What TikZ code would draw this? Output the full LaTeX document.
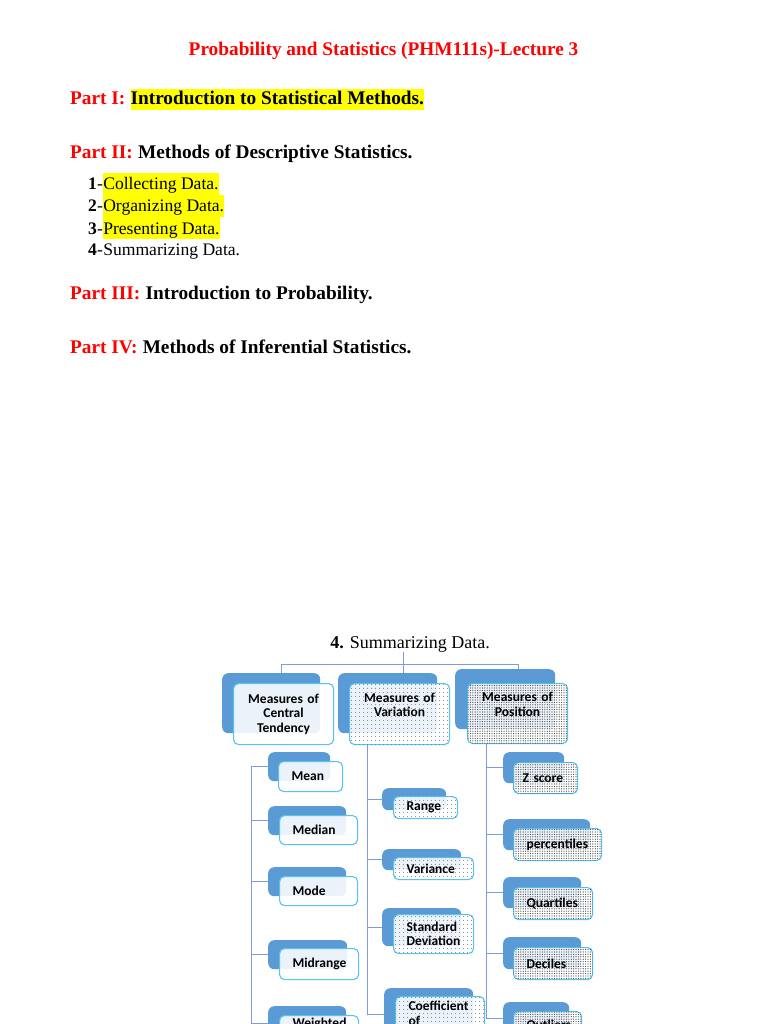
\documentclass[tikz,border=0pt]{standalone}
\usepackage{fontspec}
\setmainfont{Liberation Serif}
\newfontfamily\boxfont{Carlito}
\usetikzlibrary{positioning,patterns.meta}

\definecolor{titlered}{RGB}{255,0,0}
\definecolor{hlyellow}{RGB}{255,255,0}
\definecolor{backblue}{RGB}{91,155,213}
\definecolor{edgeblue}{RGB}{86,196,240}
\definecolor{linkblue}{RGB}{125,155,222}
\definecolor{dotgray}{RGB}{70,70,70}

\tikzset{
  partlbl/.style={text=titlered, font=\bfseries\fontsize{19.3}{23}\selectfont, inner sep=0pt, anchor=base west},
  parttxt/.style={font=\bfseries\fontsize{19.3}{23}\selectfont, inner sep=0pt, text height=16pt, text depth=5pt},
  itemnum/.style={font=\fontsize{17.6}{21}\selectfont, inner sep=0pt, anchor=base west},
  itemtxt/.style={font=\fontsize{17.6}{21}\selectfont, inner sep=0pt, text height=17pt, text depth=5pt},
  backbox/.style={fill=backblue, rounded corners=6pt, anchor=north west, inner sep=0pt},
  frontbox/.style={draw=edgeblue, line width=1.1pt, rounded corners=5pt, fill=white, fill opacity=0.88,
    text opacity=1, font=\boxfont\bfseries\fontsize{13.5}{14.5}\selectfont, anchor=north west,
    inner xsep=13pt, inner ysep=1pt, align=left},
  sparsedots/.style={frontbox, postaction={fill opacity=1, pattern={Dots[distance=4pt,radius=0.5pt]}, pattern color=dotgray}},
  densedots/.style={frontbox, postaction={fill opacity=1, pattern={Dots[distance=2.4pt,radius=0.6pt]}, pattern color=dotgray}},
  conn/.style={draw=linkblue, line width=0.9pt}
}

\begin{document}
\begin{tikzpicture}[x=1pt,y=-1pt]
\useasboundingbox[fill=white] (0,0) rectangle (768,1024);
\clip (0,0) rectangle (768,1024);

\node[text=titlered, font=\bfseries\fontsize{19.3}{23}\selectfont, inner sep=0pt, anchor=base] (title) at (383.5,56) {Probability and Statistics (PHM111s)-Lecture 3};

\node[partlbl] (p1) at (70,105) {Part I:};
\node[parttxt, fill=hlyellow, base right=4.8pt of p1] (p1t) {Introduction to Statistical Methods.};
\node[partlbl] (p2) at (70,159) {Part II:};
\node[parttxt, base right=4.8pt of p2] (p2t) {Methods of Descriptive Statistics.};

\node[itemnum] (i1) at (88,190) {\textbf{1}-};
\node[itemtxt, fill=hlyellow, base right=0pt of i1] (i1t) {Collecting Data.};
\node[itemnum] (i2) at (88,212) {\textbf{2}-};
\node[itemtxt, fill=hlyellow, base right=0pt of i2] (i2t) {Organizing Data.};
\node[itemnum] (i3) at (88,234) {\textbf{3}-};
\node[itemtxt, fill=hlyellow, base right=0pt of i3] (i3t) {Presenting Data.};
\node[itemnum] (i4) at (88,255) {\textbf{4}-};
\node[itemtxt, base right=0pt of i4] (i4t) {Summarizing Data.};

\node[partlbl] (p3) at (70,299) {Part III:};
\node[parttxt, base right=4.8pt of p3] (p3t) {Introduction to Probability.};
\node[partlbl] (p4) at (70,353) {Part IV:};
\node[parttxt, base right=4.8pt of p4] (p4t) {Methods of Inferential Statistics.};

\node[font=\fontsize{18}{21}\selectfont, inner sep=0pt, anchor=base] (sumtitle) at (410,648) {\textbf{4.} Summarizing Data.};

\node[backbox, minimum width=98pt, minimum height=60pt] (ctb) at (222,673) {};
\node[backbox, minimum width=99pt, minimum height=60pt] (cvb) at (338,673) {};
\node[backbox, minimum width=100pt, minimum height=60pt] (ptb) at (455,669) {};
\node[frontbox, align=center, text width=74pt, minimum height=61pt] (ctf) at (233,683) {Measures of\\Central\\Tendency};
\node[sparsedots, align=center, text width=74pt, minimum height=61pt] (cvf) at (349,683) {Measures of\\Variation\\\strut};
\node[densedots, align=center, text width=74pt, minimum height=60pt] (ptf) at (467,683) {Measures of\\Position\\\strut};

\node[backbox, minimum width=62pt, minimum height=29pt] (meanb) at (268,752) {};
\node[backbox, minimum width=78pt, minimum height=29pt] (medb) at (268,806) {};
\node[backbox, minimum width=78pt, minimum height=29pt] (modeb) at (268,867) {};
\node[backbox, minimum width=79pt, minimum height=29pt] (midb) at (268,940) {};
\node[backbox, minimum width=78pt, minimum height=34pt] (wmb) at (268,1006) {};
\node[frontbox, text width=38pt, minimum height=30pt] (meanf) at (278,761) {Mean};
\node[frontbox, text width=52pt, minimum height=29pt] (medf) at (279,815) {Median};
\node[frontbox, text width=52pt, minimum height=29pt] (modef) at (279,876) {Mode};
\node[frontbox, text width=53pt, minimum height=31pt] (midf) at (279,948) {Midrange};
\node[frontbox, text width=53pt, minimum height=34pt] (wmf) at (279,1015) {Weighted\\\strut};

\node[backbox, minimum width=64pt, minimum height=22pt] (rangeb) at (382,788) {};
\node[backbox, minimum width=79pt, minimum height=21pt] (varb) at (382,849) {};
\node[backbox, minimum width=79pt, minimum height=38pt] (sdb) at (382,908) {};
\node[backbox, minimum width=89pt, minimum height=52pt] (covb) at (384,988) {};
\node[sparsedots, text width=38pt, minimum height=22pt] (rangef) at (393,796) {Range};
\node[sparsedots, text width=54pt, minimum height=22pt] (varf) at (393,857) {Variance};
\node[sparsedots, text width=54pt, minimum height=39pt] (sdf) at (393,914) {Standard\\Deviation};
\node[sparsedots, text width=63pt, minimum height=52pt] (covf) at (395,996) {Coefficient\\of\\\strut};

\node[backbox, minimum width=61pt, minimum height=31pt] (zb) at (503,752) {};
\node[backbox, minimum width=87pt, minimum height=31pt] (pcb) at (503,819) {};
\node[backbox, minimum width=78pt, minimum height=31pt] (qb) at (503,877) {};
\node[backbox, minimum width=78pt, minimum height=32pt] (db) at (503,937) {};
\node[backbox, minimum width=66pt, minimum height=32pt] (ob) at (503,1002) {};
\node[densedots, inner xsep=9pt, text width=46pt, minimum height=31pt] (zf) at (513,762) {Z score};
\node[densedots, text width=62pt, minimum height=32pt] (pcf) at (513,828) {percentiles};
\node[densedots, text width=53pt, minimum height=32pt] (qf) at (513,887) {Quartiles};
\node[densedots, text width=53pt, minimum height=32pt] (df) at (513,947) {Deciles};
\node[densedots, text width=42pt, minimum height=26pt] (of) at (513,1011) {Outliers};

\coordinate (hubL) at (281,664);
\coordinate (hubM) at (403,664);
\coordinate (hubR) at (518,664);
\draw[conn] (sumtitle.south -| hubM) -- (hubM);
\draw[conn] (ctb.north -| hubL) -- (hubL) -- (hubR) -- (ptb.north -| hubR);
\draw[conn] (hubM) -- (cvb.north -| hubM);

\coordinate (ltr) at (251,0);
\coordinate (mtr) at (367,0);
\coordinate (rtr) at (486,0);
\draw[conn] (meanb.west -| ltr) -- (wmb.west -| ltr);
\draw[conn] (cvf.south -| mtr) -- (covb.west -| mtr);
\draw[conn] (ptf.south -| rtr) -- (ob.west -| rtr);
\foreach \n in {meanb,medb,modeb,midb,wmb} \draw[conn] (\n.west) -- (\n.west -| ltr);
\foreach \n in {rangeb,varb,sdb,covb} \draw[conn] (\n.west) -- (\n.west -| mtr);
\foreach \n in {zb,pcb,qb,db,ob} \draw[conn] (\n.west) -- (\n.west -| rtr);
\end{tikzpicture}
\end{document}
